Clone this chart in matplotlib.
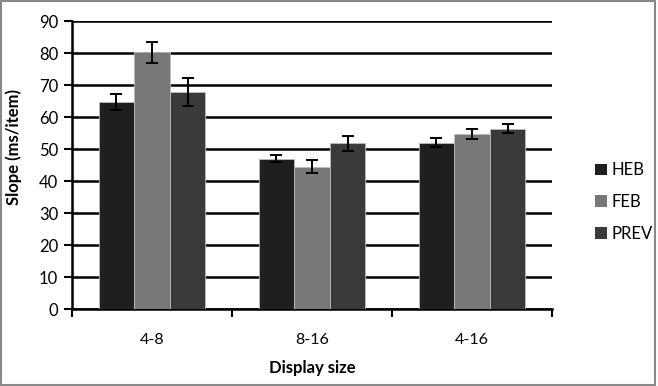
import matplotlib
matplotlib.use("Agg")
import matplotlib.pyplot as plt
import numpy as np
from matplotlib.patches import Rectangle

categories = ["4-8", "8-16", "4-16"]
series = ["HEB", "FEB", "PREV"]
heb = [64.7, 47.0, 52.0]
feb = [80.2, 44.5, 54.7]
prev = [67.8, 51.8, 56.4]
heb_err = [2.4, 1.2, 1.3]
feb_err = [3.3, 2.0, 1.6]
prev_err = [4.4, 2.4, 1.5]
colors = ["#1f1f1f", "#777777", "#3a3a3a"]
yticks = list(range(0, 91, 10))

plt.rcParams['font.family'] = ['Lato', 'DejaVu Sans']

fig = plt.figure(figsize=(6.58, 3.86), dpi=100)
ax = fig.add_axes([72/658, 1-309/386, 480/658, 288/386])

x = np.arange(len(categories))
w = 0.222
vals = [heb, feb, prev]
errs = [heb_err, feb_err, prev_err]
for i, (v, e, c, name) in enumerate(zip(vals, errs, colors, series)):
    ax.bar(x + (i-1)*w, v, width=w, color=c, edgecolor="#bdbdbd", linewidth=0.6,
           label=name, zorder=3)
    ax.errorbar(x + (i-1)*w, v, yerr=e, fmt="none", ecolor="black",
                elinewidth=1.4, capsize=4, capthick=1.4, zorder=4)

ax.set_xlim(-0.5, 2.5)
ax.set_ylim(0, 90)
ax.set_yticks(yticks)
ax.yaxis.grid(True, color="black", linewidth=1.8, zorder=0)
ax.set_axisbelow(True)
ax.set_xticks([-0.5, 0.5, 1.5, 2.5])
ax.set_xticklabels([])
ax.set_xticks(x, minor=True)
ax.set_xticklabels(categories, minor=True, fontsize=11.5)
ax.tick_params(axis="x", which="minor", length=0, pad=17)
ax.tick_params(axis="x", which="major", length=6, width=1.5, direction="out")
ax.tick_params(axis="y", length=6, width=1.5, direction="out", labelsize=12, pad=4)
for s in ["top", "right"]:
    ax.spines[s].set_visible(False)
ax.spines["left"].set_linewidth(1.8)
ax.spines["bottom"].set_linewidth(1.8)

ax.set_xlabel("Display size", fontsize=12, fontweight="bold", labelpad=10)
ax.set_ylabel("Slope (ms/item)", fontsize=12, fontweight="bold", labelpad=7)
ax.yaxis.set_label_coords(-0.105, (309-147)/288)

leg = fig.legend(loc="center left", bbox_to_anchor=(580/658, 1-202/386), frameon=False,
                 fontsize=12, handlelength=0.7, handleheight=0.7, handletextpad=0.3,
                 labelspacing=0.95)
for h in leg.legend_handles:
    h.set_edgecolor("none")

fig.patches.append(Rectangle((0.002, 0.003), 0.994, 0.994, transform=fig.transFigure,
                             fill=False, edgecolor="#888888", linewidth=1.5))

fig.savefig("out.png", dpi=100)
